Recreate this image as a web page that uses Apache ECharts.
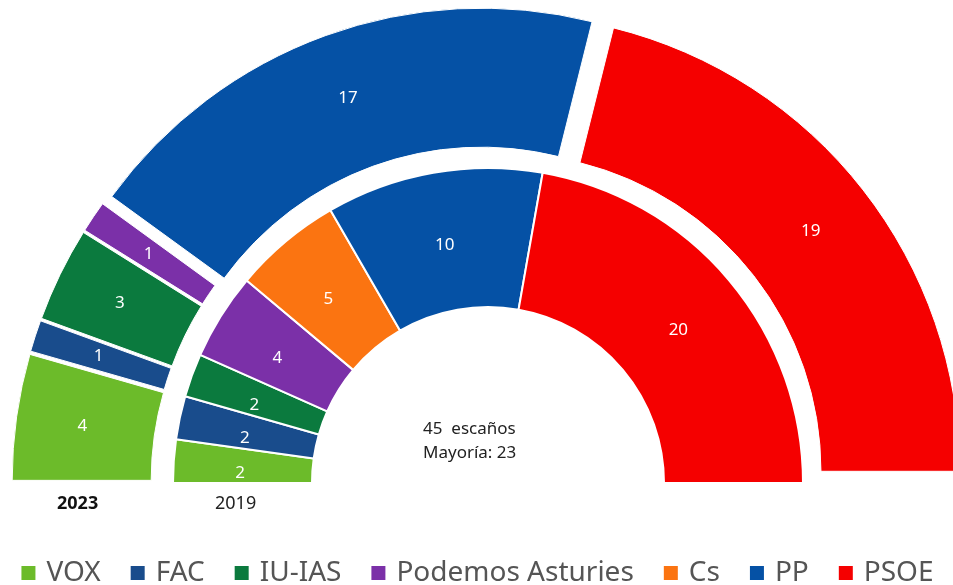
<!DOCTYPE html>
<html>
<head>
<meta charset="utf-8">
<title>Junta General del Principado de Asturias</title>
<script src="https://cdn.jsdelivr.net/npm/echarts@6/dist/echarts.min.js"></script>
<style>
  html, body { margin: 0; padding: 0; background: #fff; }
  #chart { width: 953px; height: 585px; }
</style>
</head>
<body>
<div id="chart"></div>
<script>
// datos
const parties = ['VOX', 'FAC', 'IU-IAS', 'Podemos Asturies', 'Cs', 'PP', 'PSOE'];
const partyColors = ['#6cbb2a', '#194c8c', '#0b7a3e', '#7b30a8', '#fb7411', '#0551a5', '#f50000'];
const seats2023 = [4, 1, 3, 1, 0, 17, 19];
const seats2019 = [2, 2, 2, 4, 5, 10, 20];
const totalSeats = 45;
const majority = 23;

const font = 'Noto Sans';

function buildData(seats, selected) {
  const out = [];
  seats.forEach((v, i) => {
    if (!v) return;
    out.push({
      name: parties[i],
      value: v,
      selected: selected,
      itemStyle: { color: partyColors[i] }
    });
  });
  return out;
}

const myChart = echarts.init(document.getElementById('chart'), null, { renderer: 'canvas' });

const labelStyle = {
  show: true,
  position: 'inside',
  formatter: '{c}',
  offset: [0, 7],
  color: '#fff',
  fontFamily: font,
  fontSize: 17
};

myChart.setOption({
  animation: false,
  legend: {
    data: parties,
    top: 554,
    left: 'center',
    icon: 'rect',
    itemWidth: 16,
    itemHeight: 16,
    itemGap: 28,
    selectedMode: false,
    textStyle: { color: '#555', fontSize: 28, fontFamily: font, padding: [0, 0, 0, 5] }
  },
  graphic: [
    { type: 'text', left: 423, top: 421,
      style: { text: totalSeats + '  escaños', fill: '#222', fontSize: 17, fontFamily: font } },
    { type: 'text', left: 423, top: 445,
      style: { text: 'Mayoría: ' + majority, fill: '#222', fontSize: 17, fontFamily: font } },
    { type: 'text', left: 57, top: 495,
      style: { text: '2023', fill: '#111', fontSize: 18, fontWeight: 'bold', fontFamily: font } },
    { type: 'text', left: 215, top: 495,
      style: { text: '2019', fill: '#222', fontSize: 18, fontFamily: font } }
  ],
  series: [
    {
      name: '2019',
      type: 'pie',
      center: [488, 483],
      radius: [176, 315],
      startAngle: 180,
      endAngle: 0,
      clockwise: true,
      silent: true,
      emphasis: { disabled: true },
      itemStyle: { borderColor: '#fff', borderWidth: 2 },
      label: labelStyle,
      labelLine: { show: false },
      data: buildData(seats2019, false)
    },
    {
      name: '2023',
      type: 'pie',
      center: [488, 483],
      radius: [318, 457],
      startAngle: 180,
      endAngle: 0,
      clockwise: true,
      silent: true,
      selectedMode: 'multiple',
      selectedOffset: 19,
      emphasis: { disabled: true },
      itemStyle: { borderColor: '#fff', borderWidth: 1 },
      label: labelStyle,
      labelLine: { show: false },
      data: buildData(seats2023, true)
    }
  ]
});
</script>
</body>
</html>
